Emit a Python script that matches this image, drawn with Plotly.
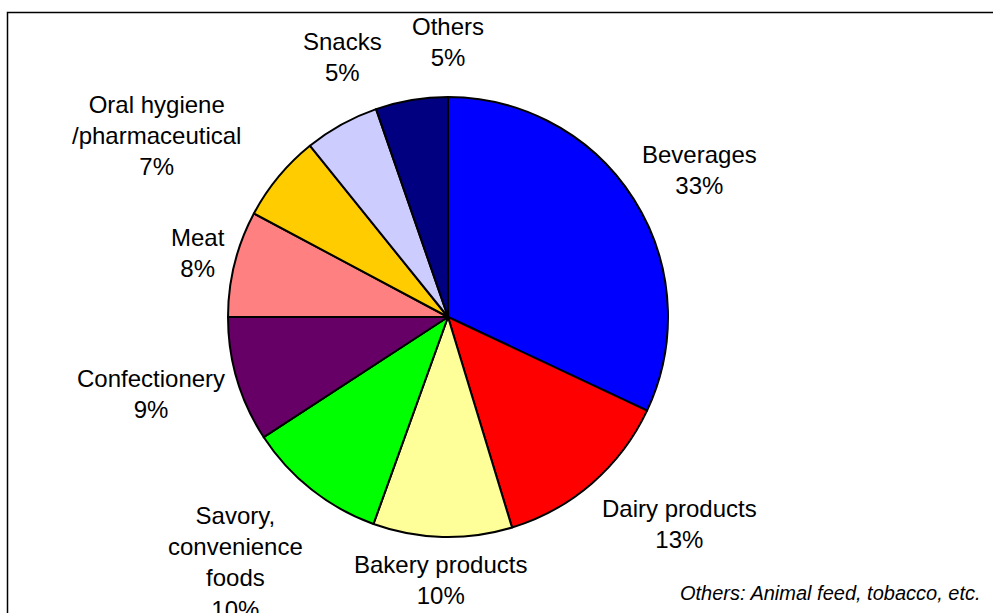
import plotly.graph_objects as go

# ---- data ----
categories = ["Beverages", "Dairy products", "Bakery products",
              "Savory,<br>convenience<br>foods", "Confectionery", "Meat",
              "Oral hygiene<br>/pharmaceutical", "Snacks", "Others"]
shares = [32.0, 13.3, 10.2, 10.3, 9.2, 7.8, 6.4, 5.5, 5.3]
pct_labels = ["33%", "13%", "10%", "10%", "9%", "8%", "7%", "5%", "5%"]
footnote = "Others: Animal feed, tobacco, etc."

# ---- styles ----
colors = ["#0000FF", "#FF0000", "#FFFF99", "#00FF00", "#660066",
          "#FF8080", "#FFCC00", "#CCCCFF", "#000080"]
W, H = 993, 613
label_px = [(699, 170), (679, 524), (440, 580), (235, 562), (151, 394),
            (198, 253), (156, 135), (342, 57), (448, 42)]
cx, cy, r = 448, 317, 220
FONT = "Liberation Sans, Arial, sans-serif"

fig = go.Figure(go.Pie(
    labels=categories,
    values=shares,
    sort=False,
    direction="clockwise",
    rotation=0,
    textinfo="none",
    hoverinfo="label+percent",
    marker=dict(colors=colors, line=dict(color="black", width=2)),
    domain=dict(x=[(cx - r) / W, (cx + r) / W], y=[1 - (cy + r) / H, 1 - (cy - r) / H]),
    showlegend=False,
))

annotations = []
for cat, pct, (px, py) in zip(categories, pct_labels, label_px):
    annotations.append(dict(
        x=px / W, y=1 - py / H, xref="paper", yref="paper",
        text=f"{cat}<br>{pct}", showarrow=False,
        xanchor="center", yanchor="middle", align="center",
        font=dict(family=FONT, size=24, color="black"),
    ))
annotations.append(dict(
    x=983 / W, y=1 - 593 / H, xref="paper", yref="paper",
    text=f"<i>{footnote}</i>", showarrow=False,
    xanchor="right", yanchor="middle",
    font=dict(family=FONT, size=20, color="black"),
))

fig.update_layout(
    width=W, height=H,
    margin=dict(l=0, r=0, t=0, b=0),
    paper_bgcolor="white", plot_bgcolor="white",
    annotations=annotations,
    shapes=[dict(type="rect", xref="paper", yref="paper",
                 x0=7.5 / W, x1=1.1, y0=-0.1, y1=1 - 12.5 / H,
                 line=dict(color="black", width=1.5), fillcolor="rgba(0,0,0,0)")],
)

fig.write_html("out.html",
               config={"displayModeBar": False},
               post_script="document.body.style.margin='0';document.body.style.overflow='hidden';")
